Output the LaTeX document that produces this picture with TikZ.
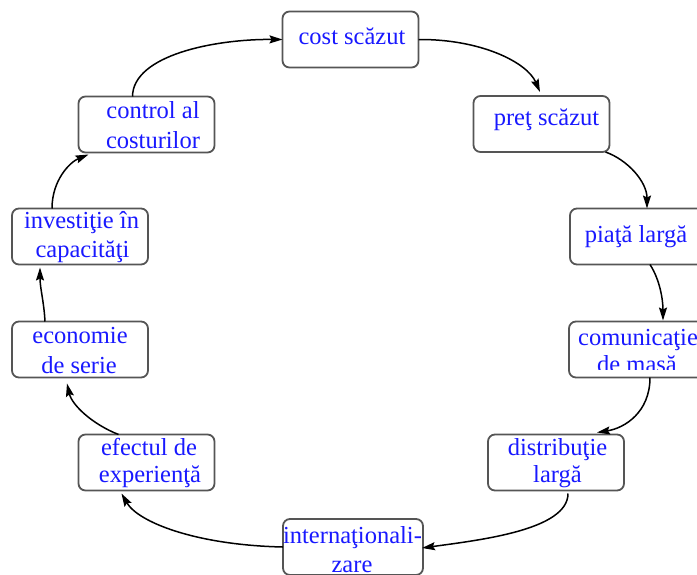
\documentclass[tikz,border=0pt]{standalone}
\usepackage{fontspec}
\setmainfont{Liberation Serif}
\usetikzlibrary{arrows.meta,calc}
\definecolor{txtblue}{RGB}{25,25,255}
\definecolor{boxgray}{RGB}{85,85,85}
\begin{document}
\begin{tikzpicture}[x=1pt,y=-1pt,
 box/.style={draw=boxgray,line width=1.8pt,rounded corners=7pt,fill=white,minimum width=136pt,minimum height=56pt,inner sep=0pt,outer sep=0pt},
 lbl/.style={text=txtblue,font=\fontsize{24.5}{28}\selectfont,anchor=base,inner sep=0pt},
 arr/.style={line width=1.5pt,-{Stealth[length=13pt,width=8pt,inset=2pt]}}]
\clip (0,0) rectangle (697,574);
% boxes
\node[box] (cost) at (350.5,39.5) {};
\node[box] (pret) at (541.5,124) {};
\node[box] (piata) at (638,236.5) {};
\node[box] (com) at (637,349.5) {};
\node[box] (dist) at (556,462.5) {};
\node[box,minimum width=140pt] (intern) at (353,547) {};
\node[box] (efect) at (146.5,462.5) {};
\node[box] (econ) at (80,349.5) {};
\node[box] (invest) at (80,236.5) {};
\node[box] (ctrl) at (146.5,124.5) {};
% connectors
\draw[arr] (cost.east) .. controls (480,39) and (527,62) .. ($(pret.north)+(-1.5,-4)$);
\draw[arr] ($(pret.south east)+(-4,0)$) .. controls (628,160) and (647,182) .. ($(piata.north)+(9,0)$);
\draw[arr] ($(piata.south)+(12,0)$) .. controls (660,280) and (663,300) .. ($(com.north)+(26,-1)$);
\draw[arr] ($(com.south)+(13,0)$) .. controls (650,412) and (625,428) .. ($(dist.north)+(41,-2)$);
\draw[arr] ($(dist.south)+(12,3)$) .. controls (568,530) and (480,540) .. ($(intern.east)+(-1,1)$);
\draw[arr] (intern.west) .. controls (195,545) and (138,522) .. ($(efect.south)+(-25,3)$);
\draw[arr] ($(efect.north west)+(40,0)$) .. controls (92,424) and (72,405) .. ($(econ.south)+(-13,6)$);
\draw[arr] ($(econ.north)+(-35,0)$) .. controls (44,302) and (40,288) .. ($(invest.south)+(-40,3)$);
\draw[arr] ($(invest.north)+(-28,0)$) .. controls (52,180) and (70,162) .. ($(ctrl.south west)+(10,2)$);
\draw[arr] ($(ctrl.north)+(-14,0)$) .. controls (133,55) and (215,39) .. (cost.west);
% labels
\node[lbl] (cost-t) at (352,44) {cost scăzut};
\node[lbl] (pret-t) at (546.5,125) {preţ scăzut};
\node[lbl] (piata-t) at (636,242) {piaţă largă};
\node[lbl] (com-t1) at (638,345) {comunicaţie};
\begin{scope}
\clip (540,300) rectangle (720,369);
\node[lbl] (com-t2) at (637,372) {de masă};
\end{scope}
\node[lbl] (dist-t1) at (557.5,455) {distribuţie};
\node[lbl] (dist-t2) at (557.5,482) {largă};
\node[lbl] (intern-t1) at (352.5,543) {internaţionali-};
\node[lbl] (intern-t2) at (352,572) {zare};
\node[lbl] (efect-t1) at (149,455) {efectul de};
\node[lbl] (efect-t2) at (150,482) {experienţă};
\node[lbl] (econ-t1) at (80,343) {economie};
\node[lbl] (econ-t2) at (79,373) {de serie};
\node[lbl] (invest-t1) at (81.5,228) {investiţie în};
\node[lbl] (invest-t2) at (82.5,257) {capacităţi};
\node[lbl] (ctrl-t1) at (153,118) {control al};
\node[lbl] (ctrl-t2) at (153,148) {costurilor};
\end{tikzpicture}
\end{document}
